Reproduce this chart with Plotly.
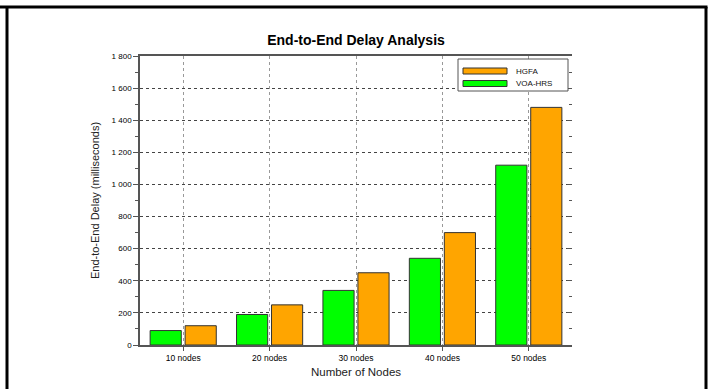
import plotly.graph_objects as go

# Data
categories = ["10 nodes", "20 nodes", "30 nodes", "40 nodes", "50 nodes"]
voa_hrs = [90, 190, 340, 540, 1120]
hgfa = [120, 250, 450, 700, 1480]
y_ticks = [0, 200, 400, 600, 800, 1000, 1200, 1400, 1600, 1800]

W, H = 712, 389
L, R, T, B = 140, 140, 56, 44

def px(xp):
    return (xp - L) / (W - L - R)

def py(yp):
    return (H - B - yp) / (H - T - B)

GREEN = "#00FF00"
ORANGE = "#FFA500"
EDGE = "#333333"
FONT = "Liberation Sans, Arial, sans-serif"

fig = go.Figure()
fig.add_trace(go.Bar(x=categories, y=voa_hrs, name="VOA-HRS",
                     marker=dict(color=GREEN, line=dict(color=EDGE, width=1)),
                     showlegend=False))
fig.add_trace(go.Bar(x=categories, y=hgfa, name="HGFA",
                     marker=dict(color=ORANGE, line=dict(color=EDGE, width=1)),
                     showlegend=False))
# invisible trace to drive the right-hand inward ticks
fig.add_trace(go.Scatter(x=[categories[0]], y=[0], yaxis="y2", mode="markers",
                         marker=dict(opacity=0), showlegend=False, hoverinfo="skip"))

shapes = []
annotations = []

# Outer frame lines
frame = dict(color="black", width=3)
shapes.append(dict(type="line", xref="paper", yref="paper",
                   x0=px(0), x1=px(707.5), y0=py(7), y1=py(7), line=frame))
shapes.append(dict(type="line", xref="paper", yref="paper",
                   x0=px(7), x1=px(7), y0=py(7), y1=py(392), line=frame))
shapes.append(dict(type="line", xref="paper", yref="paper",
                   x0=px(706), x1=px(706), y0=py(7), y1=py(392), line=frame))

# Legend box
shapes.append(dict(type="rect", xref="paper", yref="paper",
                   x0=px(458), x1=px(568), y0=py(59), y1=py(91),
                   line=dict(color="#555555", width=1), fillcolor="white"))
legend_items = [("HGFA", ORANGE, 71), ("VOA-HRS", GREEN, 83.5)]
for label, color, yc in legend_items:
    shapes.append(dict(type="rect", xref="paper", yref="paper",
                       x0=px(463), x1=px(507), y0=py(yc - 3), y1=py(yc + 3),
                       line=dict(color=EDGE, width=1), fillcolor=color))
    annotations.append(dict(text=label, xref="paper", yref="paper",
                            x=px(514), y=py(yc), xanchor="left", yanchor="middle",
                            showarrow=False, font=dict(family=FONT, size=8, color="#111111")))

fig.update_layout(
    width=W, height=H,
    margin=dict(l=L, r=R, t=T, b=B),
    paper_bgcolor="white", plot_bgcolor="white",
    barmode="group", bargap=0.19, bargroupgap=0.11,
    separators=". ",
    title=dict(text="<b>End-to-End Delay Analysis</b>", x=0.5, xanchor="center",
               y=1 - 40 / H, yanchor="middle",
               font=dict(family=FONT, size=14, color="black")),
    font=dict(family=FONT, color="black"),
    xaxis=dict(
        type="category", range=[-0.5, 4.5],
        showgrid=True, gridcolor="#999999", griddash="dot", gridwidth=1,
        showline=True, linecolor="#555555", linewidth=1.5, mirror=True,
        ticks="outside", ticklen=4, tickcolor="#555555",
        tickfont=dict(family=FONT, size=8.5),
        title=dict(text="Number of Nodes", font=dict(family=FONT, size=11.5, color="#222222"),
                   standoff=6),
        zeroline=False,
    ),
    yaxis=dict(
        range=[0, 1800], tickvals=y_ticks, separatethousands=True,
        showgrid=True, gridcolor="#444444", griddash="dot", gridwidth=1,
        showline=True, linecolor="#555555", linewidth=1.5,
        ticks="outside", ticklen=5, tickcolor="#555555",
        minor=dict(dtick=100, ticks="outside", ticklen=3, tickcolor="#555555", showgrid=False),
        tickfont=dict(family=FONT, size=8),
        title=dict(text="End-to-End Delay (milliseconds)",
                   font=dict(family=FONT, size=11, color="#222222"), standoff=10),
        zeroline=False,
    ),
    yaxis2=dict(
        overlaying="y", side="right", range=[0, 1800], showgrid=False,
        tickvals=y_ticks, showticklabels=False, ticks="inside", ticklen=5,
        tickcolor="#555555",
        minor=dict(dtick=100, ticks="inside", ticklen=3, tickcolor="#555555"),
        zeroline=False, showline=False,
    ),
    shapes=shapes,
    annotations=annotations,
)

fig.write_html("out.html")
